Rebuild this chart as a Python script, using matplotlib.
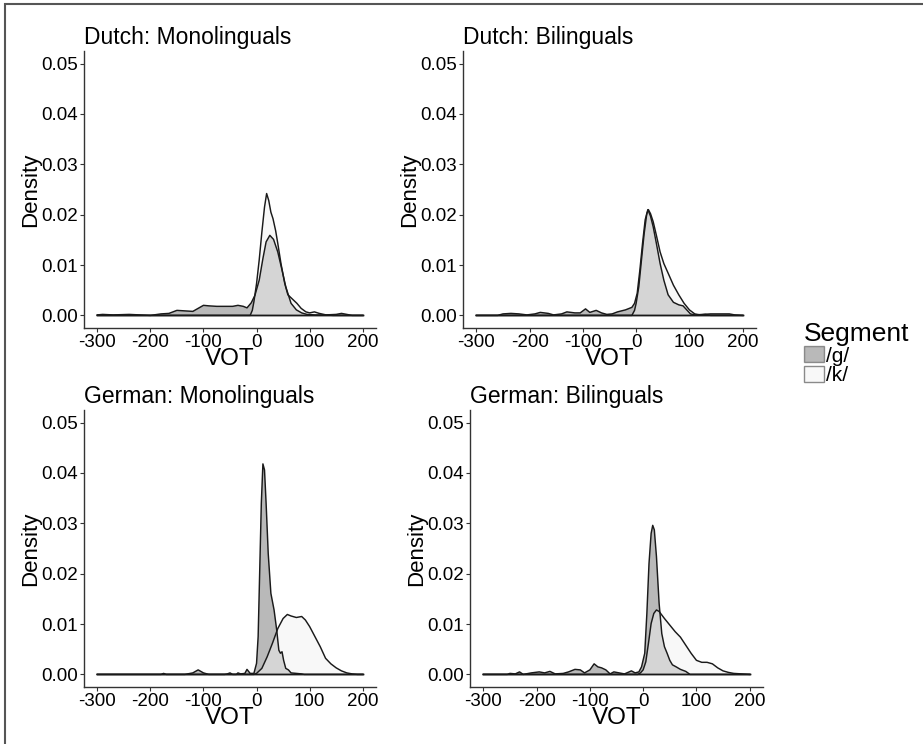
import matplotlib
matplotlib.use("Agg")
import matplotlib.pyplot as plt
from matplotlib.patches import Patch, Rectangle

plt.rcParams['font.family'] = ['Liberation Sans', 'DejaVu Sans']
plt.rcParams['axes.unicode_minus'] = False

# ---- data ----
titles = ["Dutch: Monolinguals", "Dutch: Bilinguals",
          "German: Monolinguals", "German: Bilinguals"]
segments = ["/g/", "/k/"]

# Dutch monolinguals
vot_dm_g = [-300, -290, -270, -240, -220, -200, -180, -165, -150, -135, -120, -110, -100, -90, -75,
            -60, -45, -35, -25, -18, -10, -3, 5, 12, 18, 25, 32, 40, 48, 55, 65, 75, 85, 95, 110,
            130, 150, 160, 170, 180, 200]
dens_dm_g = [0.0001, 0.0002, 0.0001, 0.0002, 0.0001, 0.0, 0.0003, 0.0004, 0.0010, 0.0009, 0.0008,
             0.0014, 0.0020, 0.0019, 0.0018, 0.0018, 0.0018, 0.0020, 0.0018, 0.0015, 0.0025, 0.0040,
             0.0070, 0.0113, 0.0146, 0.0159, 0.0151, 0.0126, 0.0090, 0.0057, 0.0024, 0.0011, 0.0005,
             0.0002, 0.0001, 0.0001, 0.0002, 0.0004, 0.0002, 0.0, 0.0]
vot_dm_k = [-300, -12, -8, -5, 0, 5, 10, 15, 19, 23, 27, 31, 36, 40, 46, 53, 59, 68, 76, 84, 93,
            100, 109, 118, 131, 144, 200]
dens_dm_k = [0, 0, 0.0010, 0.0027, 0.0063, 0.0110, 0.0165, 0.0215, 0.0242, 0.0228, 0.0205, 0.0192,
             0.0168, 0.0143, 0.0103, 0.0064, 0.0041, 0.0032, 0.0024, 0.0014, 0.0007, 0.0005, 0.0007,
             0.0004, 0.0001, 0, 0]

# Dutch bilinguals
vot_db_g = [-300, -260, -250, -235, -220, -205, -190, -180, -165, -155, -140, -130, -115, -105, -95,
            -87, -75, -65, -55, -45, -35, -20, -8, -3, 2, 7, 12, 17, 22, 27, 32, 38, 45, 52, 60, 70,
            80, 88, 95, 102, 110, 125, 140, 160, 175, 185, 200]
dens_db_g = [0, 0, 0.0003, 0.0004, 0.0003, 0.0001, 0.0003, 0.0006, 0.0004, 0.0001, 0.0003, 0.0007,
             0.0005, 0.0005, 0.0013, 0.0006, 0.0010, 0.0005, 0.0002, 0.0003, 0.0007, 0.0011, 0.0016,
             0.0024, 0.0044, 0.0090, 0.0143, 0.0190, 0.0210, 0.0197, 0.0176, 0.0143, 0.0103, 0.0070,
             0.0041, 0.0026, 0.0021, 0.0019, 0.0011, 0.0003, 0.0001, 0.0002, 0.0003, 0.0003, 0.0003,
             0.0001, 0]
vot_db_k = [-300, -8, -3, 0, 5, 10, 15, 20, 23, 27, 32, 38, 45, 52, 60, 70, 80, 90, 100, 110, 120,
            130, 140, 200]
dens_db_k = [0, 0, 0.0010, 0.0024, 0.0057, 0.0110, 0.0162, 0.0202, 0.0210, 0.0202, 0.0186, 0.0159,
             0.0126, 0.0103, 0.0084, 0.0060, 0.0041, 0.0024, 0.0011, 0.0003, 0.0001, 0.0002, 0, 0]

# German monolinguals
vot_gm_g = [-300, -180, -175, -170, -135, -130, -120, -110, -100, -90, -60, -55, -50, -45, -38, -35,
            -30, -22, -18, -12, -5, 0, 3, 6, 9, 12, 15, 18, 22, 27, 33, 38, 42, 45, 48, 51, 55, 60,
            65, 75, 85, 90, 200]
dens_gm_g = [0, 0, 0.0002, 0, 0, 0.0001, 0.0003, 0.0009, 0.0003, 0, 0, 0.0001, 0.0003, 0, 0, 0.0003,
             0.0001, 0.0002, 0.0010, 0.0002, 0.0002, 0.0022, 0.0075, 0.0207, 0.0340, 0.0418, 0.0406,
             0.0340, 0.0240, 0.0161, 0.0128, 0.0088, 0.0048, 0.0042, 0.0045, 0.0028, 0.0012, 0.0009,
             0.0003, 0.0002, 0.0001, 0, 0]
vot_gm_k = [-300, -5, 0, 10, 20, 30, 40, 50, 58, 65, 75, 85, 92, 100, 110, 120, 130, 140, 150, 160,
            170, 180, 190, 200]
dens_gm_k = [0, 0, 0.0002, 0.0012, 0.0035, 0.0062, 0.0091, 0.0111, 0.0119, 0.0116, 0.0113, 0.0115,
             0.0108, 0.0095, 0.0075, 0.0055, 0.0032, 0.0021, 0.0013, 0.0007, 0.0003, 0.0001, 0, 0]

# German bilinguals
vot_gb_g = [-300, -255, -250, -240, -232, -225, -210, -195, -185, -175, -165, -150, -140, -128, -118,
            -110, -100, -92, -85, -78, -70, -62, -55, -45, -35, -22, -15, -8, -3, 3, 7, 11, 15, 18,
            21, 25, 30, 35, 40, 45, 50, 55, 62, 70, 80, 88, 200]
dens_gb_g = [0, 0, 0.0002, 0.0001, 0.0005, 0, 0.0003, 0.0005, 0.0003, 0.0006, 0.0001, 0.0002, 0.0005,
             0.0010, 0.0009, 0.0003, 0.0009, 0.0021, 0.0015, 0.0013, 0.0009, 0.0001, 0.0005, 0.0003,
             0.0001, 0.0007, 0.0003, 0.0005, 0.0015, 0.0042, 0.0121, 0.0220, 0.0280, 0.0296, 0.0287,
             0.0234, 0.0141, 0.0081, 0.0055, 0.0042, 0.0028, 0.0019, 0.0015, 0.0010, 0.0006, 0, 0]
vot_gb_k = [-300, -10, -5, 0, 5, 10, 15, 20, 25, 30, 40, 50, 60, 70, 80, 90, 100, 110, 120, 130, 140,
            150, 160, 170, 185, 200]
dens_gb_k = [0, 0, 0.0003, 0.0009, 0.0025, 0.0062, 0.0101, 0.0121, 0.0128, 0.0125, 0.0111, 0.0098,
             0.0085, 0.0074, 0.0058, 0.0042, 0.0028, 0.0024, 0.0024, 0.0021, 0.0013, 0.0007, 0.0004,
             0.0002, 0.0001, 0]

panels = [
    ((vot_dm_g, dens_dm_g), (vot_dm_k, dens_dm_k)),
    ((vot_db_g, dens_db_g), (vot_db_k, dens_db_k)),
    ((vot_gm_g, dens_gm_g), (vot_gm_k, dens_gm_k)),
    ((vot_gb_g, dens_gb_g), (vot_gb_k, dens_gb_k)),
]

x_ticks = [-300, -200, -100, 0, 100, 200]
y_ticks = [0.00, 0.01, 0.02, 0.03, 0.04, 0.05]

# ---- style ----
W, H = 923, 744
fill_cols = ['#5a5a5a', '#f2f2f2']
fill_alpha = [0.42, 0.5]
line_col = '#1a1a1a'
axis_col = '#333333'

# panel boxes in pixels: left, top, right, bottom
boxes = [(84, 51, 376, 328), (463, 51, 756, 328),
         (84, 410, 376, 687), (470, 410, 763, 687)]

fig = plt.figure(figsize=(W / 100, H / 100), dpi=100)

for (l, t, r, b), title, curves in zip(boxes, titles, panels):
    ax = fig.add_axes([l / W, 1 - b / H, (r - l) / W, (b - t) / H])
    for (vx, dy), fc, a in zip(curves, fill_cols, fill_alpha):
        ax.fill_between(vx, dy, 0, facecolor=fc, alpha=a, edgecolor='none')
        ax.plot(vx, dy, color=line_col, lw=1.05)
        ax.plot([vx[0], vx[-1]], [0, 0], color=line_col, lw=1.05)
    ax.set_xlim(-325, 225)
    ax.set_ylim(-0.0025, 0.0525)
    ax.set_xticks(x_ticks)
    ax.set_yticks(y_ticks)
    ax.set_yticklabels(['%.2f' % v for v in y_ticks])
    for s in ['top', 'right']:
        ax.spines[s].set_visible(False)
    for s in ['left', 'bottom']:
        ax.spines[s].set_color(axis_col)
        ax.spines[s].set_linewidth(1.0)
    ax.tick_params(direction='out', length=3, width=0.8, color=axis_col,
                   labelsize=13.5, pad=1.5, labelcolor='black')
    ax.set_title(title, loc='left', fontsize=16.5, pad=5)
    ax.set_xlabel('VOT', fontsize=17.5, labelpad=-2)
    ax.set_ylabel('Density', fontsize=16, labelpad=0)

# legend
handles = [Patch(facecolor=fc, alpha=a, edgecolor=line_col, lw=1.0)
           for fc, a in zip(fill_cols, fill_alpha)]
fig.legend(handles, segments, title='Segment', loc='upper left',
           bbox_to_anchor=(804 / W, 1 - 322 / H), frameon=False,
           fontsize=15, title_fontsize=19, handlelength=0.95, handleheight=0.8,
           handletextpad=0.1, labelspacing=0.02, borderpad=0, borderaxespad=0,
           alignment='left')

# outer frame (only top and left edges visible)
fig.patches.append(Rectangle((5 / W, -0.1), 1.2, 1.1 - 4 / H, transform=fig.transFigure,
                             fill=False, edgecolor='#555555', lw=1.5))

fig.savefig('out.png', dpi=100)
